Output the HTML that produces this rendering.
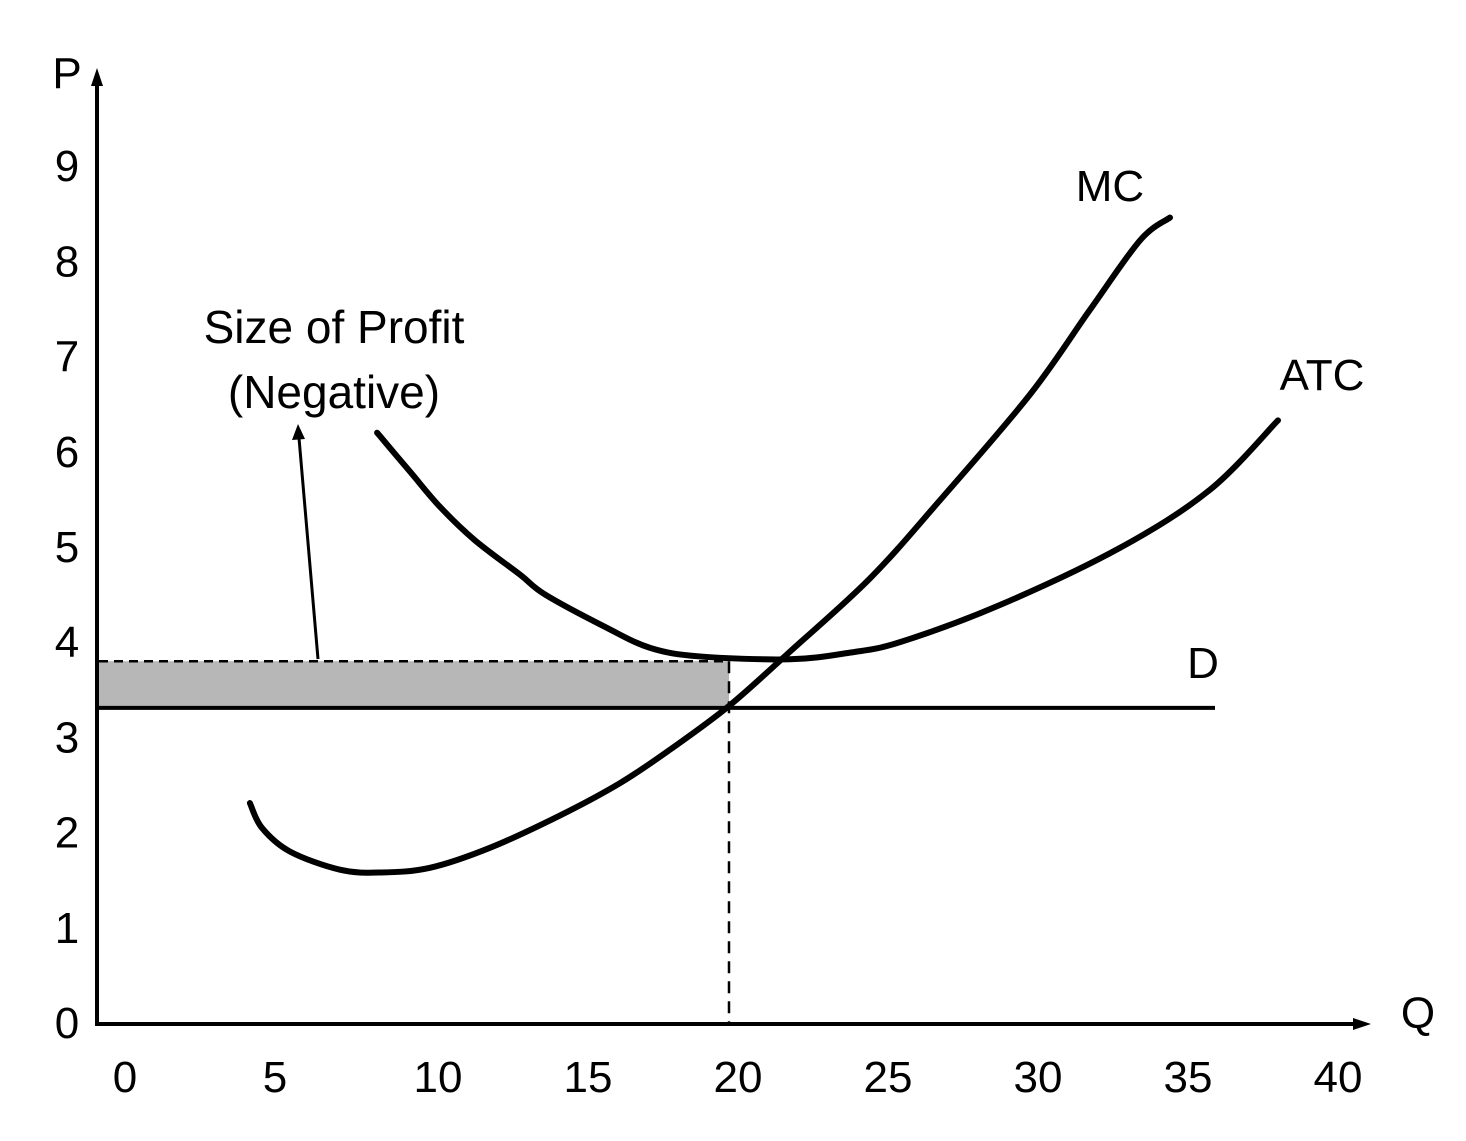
<!DOCTYPE html>
<html><head><meta charset="utf-8"><style>
html,body{margin:0;padding:0;background:#fff;}
svg{display:block;font-family:"Liberation Sans",sans-serif;}
</style></head><body>
<svg id="chart" width="1466" height="1141" viewBox="0 0 1466 1141"></svg>
<script>
const xTicks=[0,5,10,15,20,25,30,35,40];
const yTicks=[0,1,2,3,4,5,6,7,8,9];
const mcQ=[3.73,4.13,5.07,6.73,8.07,9.73,11.73,14.07,16.07,17.73,19.7,21.73,24.4,26.73,29.73,31.73,33.4,34.4];
const mcP=[2.30,2.04,1.79,1.60,1.57,1.62,1.83,2.17,2.51,2.86,3.32,3.89,4.66,5.48,6.59,7.48,8.21,8.45];
const atcQ=[7.97,9.07,10.07,11.23,12.73,13.57,15.57,17.07,18.73,21.73,23.73,25.4,28.73,32.73,35.73,38];
const atcP=[6.19,5.78,5.41,5.06,4.70,4.49,4.15,3.93,3.84,3.81,3.88,3.99,4.38,4.98,5.59,6.32];
const demandP=[3.3];
const atcAtQ=[3.79];
const outputQ=[19.7];
const demandEndQ=[35.9];

const X=q=>138+30*q, Y=p=>1022-95.2*p;
const svg=document.getElementById('chart');const NS='http://www.w3.org/2000/svg';
function mk(t,a,txt){const e=document.createElementNS(NS,t);for(const k in a)e.setAttribute(k,a[k]);if(txt!==undefined)e.textContent=txt;svg.appendChild(e);return e;}
function smooth(qs,ps){const pts=qs.map((q,i)=>[X(q),Y(ps[i])]);let d='M'+pts[0][0]+','+pts[0][1];
for(let i=0;i<pts.length-1;i++){const p0=pts[i-1]||pts[i],p1=pts[i],p2=pts[i+1],p3=pts[i+2]||p2;
d+=' C'+(p1[0]+(p2[0]-p0[0])/6)+','+(p1[1]+(p2[1]-p0[1])/6)+' '+(p2[0]-(p3[0]-p1[0])/6)+','+(p2[1]-(p3[1]-p1[1])/6)+' '+p2[0]+','+p2[1];}return d;}

let e;
e=mk('rect',{x:99,y:Y(atcAtQ[0]),width:X(outputQ[0])-99,height:Y(demandP[0])-Y(atcAtQ[0]),fill:'#b7b7b7'});


e=mk('line',{x1:99,y1:Y(atcAtQ[0]),x2:X(outputQ[0]),y2:Y(atcAtQ[0]),stroke:'#000','stroke-width':2.5,'stroke-dasharray':'9,6'});


e=mk('line',{x1:X(outputQ[0]),y1:Y(atcAtQ[0]),x2:X(outputQ[0]),y2:1022,stroke:'#000','stroke-width':2.5,'stroke-dasharray':'12,8'});


e=mk('line',{x1:97,y1:Y(demandP[0]),x2:X(demandEndQ[0]),y2:Y(demandP[0]),stroke:'#000','stroke-width':4});


e=mk('path',{d:smooth(mcQ,mcP),fill:'none',stroke:'#000','stroke-width':6,'stroke-linecap':'round'});


e=mk('path',{d:smooth(atcQ,atcP),fill:'none',stroke:'#000','stroke-width':6,'stroke-linecap':'round'});


e=mk('line',{x1:97,y1:1024,x2:97,y2:82,stroke:'#000','stroke-width':4});


e=mk('polygon',{points:'97,68 91,86 103,86',fill:'#000'});


e=mk('line',{x1:95,y1:1024,x2:1356,y2:1024,stroke:'#000','stroke-width':4});


e=mk('polygon',{points:'1371,1024 1353,1018 1353,1030',fill:'#000'});


xTicks.forEach(t=>{const el=mk('text',{x:X(t)-(t<10?13:0),y:1092,'font-size':44,'text-anchor':'middle'},String(t));

});
yTicks.forEach(t=>{const el=mk('text',{x:67,y:Y(t)+16,'font-size':44,'text-anchor':'middle'},String(t));

});
e=mk('text',{x:67,y:88,'font-size':44,'text-anchor':'middle'},'P');


e=mk('text',{x:1418,y:1028,'font-size':44,'text-anchor':'middle'},'Q');


e=mk('text',{x:1110,y:201,'font-size':44,'text-anchor':'middle'},'MC');


e=mk('text',{x:1322,y:390,'font-size':44,'text-anchor':'middle'},'ATC');


e=mk('text',{x:1203,y:678,'font-size':44,'text-anchor':'middle'},'D');


e=mk('text',{x:334,y:343,'font-size':46,'text-anchor':'middle'},'Size of Profit');


e=mk('text',{x:334,y:408,'font-size':46,'text-anchor':'middle'},'(Negative)');


e=mk('line',{x1:318,y1:659,x2:299,y2:438,stroke:'#000','stroke-width':3});


e=mk('polygon',{points:'298,424 292,440 305,439',fill:'#000'});


</script>
</body></html>
